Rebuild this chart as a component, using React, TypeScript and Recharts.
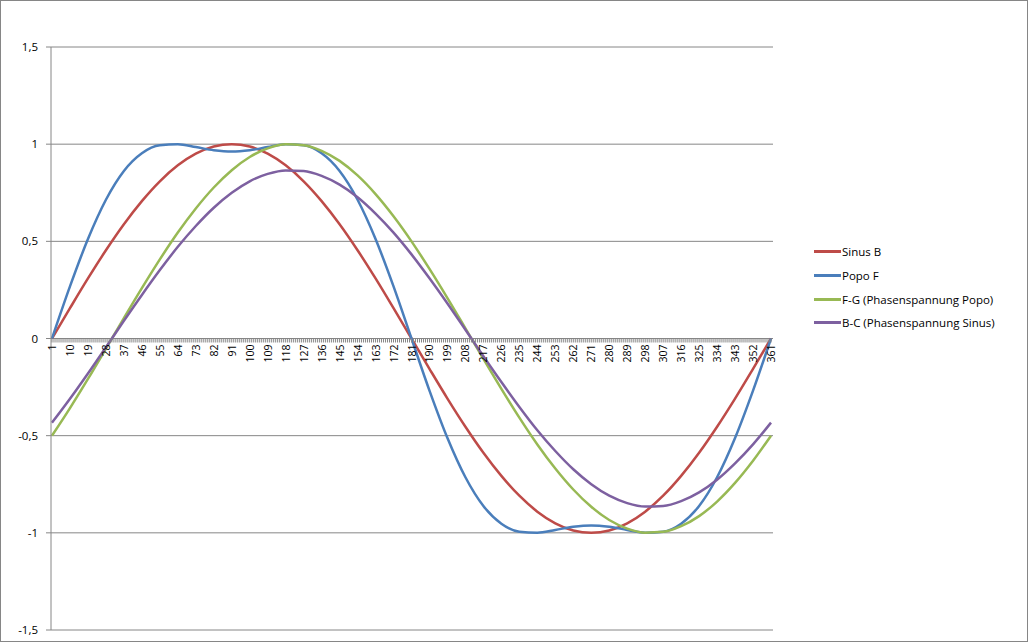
import {
  LineChart,
  Line,
  XAxis,
  YAxis,
  CartesianGrid,
  ReferenceLine,
} from "recharts";

// angle steps (category numbers 1..361, every 9th)
const xs = [
  1, 10, 19, 28, 37, 46, 55, 64, 73, 82, 91, 100, 109, 118, 127, 136, 145, 154,
  163, 172, 181, 190, 199, 208, 217, 226, 235, 244, 253, 262, 271, 280, 289,
  298, 307, 316, 325, 334, 343, 352, 361,
];

const sinusB = [
  0, 0.156, 0.309, 0.454, 0.588, 0.707, 0.809, 0.891, 0.951, 0.988, 1, 0.988,
  0.951, 0.891, 0.809, 0.707, 0.588, 0.454, 0.309, 0.156, 0, -0.156, -0.309,
  -0.454, -0.588, -0.707, -0.809, -0.891, -0.951, -0.988, -1, -0.988, -0.951,
  -0.891, -0.809, -0.707, -0.588, -0.454, -0.309, -0.156, 0,
];

const popoF = [
  0, 0.268, 0.512, 0.714, 0.862, 0.953, 0.994, 0.999, 0.985, 0.969, 0.962,
  0.969, 0.985, 0.999, 0.994, 0.953, 0.862, 0.714, 0.512, 0.268, 0, -0.268,
  -0.512, -0.714, -0.862, -0.953, -0.994, -0.999, -0.985, -0.969, -0.962,
  -0.969, -0.985, -0.999, -0.994, -0.953, -0.862, -0.714, -0.512, -0.268, 0,
];

const fg = [
  -0.5, -0.358, -0.208, -0.052, 0.105, 0.259, 0.407, 0.545, 0.669, 0.777,
  0.866, 0.934, 0.978, 0.999, 0.995, 0.966, 0.914, 0.839, 0.743, 0.629, 0.5,
  0.358, 0.208, 0.052, -0.105, -0.259, -0.407, -0.545, -0.669, -0.777, -0.866,
  -0.934, -0.978, -0.999, -0.995, -0.966, -0.914, -0.839, -0.743, -0.629, -0.5,
];

const bc = [
  -0.433, -0.31, -0.18, -0.045, 0.091, 0.224, 0.352, 0.472, 0.579, 0.673, 0.75,
  0.809, 0.847, 0.865, 0.862, 0.837, 0.792, 0.727, 0.643, 0.545, 0.433, 0.31,
  0.18, 0.045, -0.091, -0.224, -0.352, -0.472, -0.579, -0.673, -0.75, -0.809,
  -0.847, -0.865, -0.862, -0.837, -0.792, -0.727, -0.643, -0.545, -0.433,
];

const yTicks = [-1.5, -1, -0.5, 0, 0.5, 1, 1.5];
// one minor tick per category
const xTicks = Array.from({ length: 361 }, (_, i) => i + 1);

const series = [
  { key: "sinusB", name: "Sinus B", color: "#BE4B48" },
  { key: "popoF", name: "Popo F", color: "#4A7EBB" },
  { key: "fg", name: "F-G (Phasenspannung Popo)", color: "#98B954" },
  { key: "bc", name: "B-C (Phasenspannung Sinus)", color: "#7D60A0" },
];

const data = xs.map((x, i) => ({
  x,
  sinusB: sinusB[i],
  popoF: popoF[i],
  fg: fg[i],
  bc: bc[i],
}));

const W = 1028;
const H = 642;
const TOP = 47;
const BOTTOM = 11;
const X_H = 1;
const PLOT_H = H - TOP - BOTTOM - X_H;
const AXIS = "#868686";
const FONT = "'Open Sans', sans-serif";

// x axis sits on y=0, i.e. the middle of the symmetric domain
function XTick(props: any) {
  const { x, y, payload } = props;
  const y0 = y - PLOT_H / 2;
  const v = payload.value as number;
  const ty = y0 + 6;
  return (
    <g>
      <line x1={x} x2={x} y1={y0} y2={y0 + 4} stroke={AXIS} strokeWidth={1} />
      {(v - 1) % 9 === 0 && (
        <text
          x={x}
          y={ty}
          transform={`rotate(-90 ${x} ${ty})`}
          textAnchor="end"
          dominantBaseline="central"
          fontSize={10.5}
          fontFamily={FONT}
          fill="#000"
        >
          {v}
        </text>
      )}
    </g>
  );
}

function LegendBox() {
  return (
    <div
      style={{
        position: "absolute",
        left: 814,
        top: 240,
        fontFamily: FONT,
        fontSize: 11.5,
        color: "#000",
      }}
    >
      {series.map((s) => (
        <div
          key={s.key}
          style={{ display: "flex", alignItems: "center", height: 23.7 }}
        >
          <span
            style={{
              display: "inline-block",
              width: 27,
              height: 3,
              background: s.color,
              marginRight: 1,
            }}
          />
          <span>{s.name}</span>
        </div>
      ))}
    </div>
  );
}

export default function App() {
  return (
    <div
      style={{
        position: "absolute",
        left: 0,
        top: 0,
        width: W,
        height: H,
        boxSizing: "border-box",
        border: `1px solid ${AXIS}`,
        background: "#fff",
      }}
    >
      <div style={{ position: "absolute", left: -1, top: -1 }}>
        <LineChart
          width={W}
          height={H}
          data={data}
          margin={{ top: TOP, right: 255, left: 0, bottom: BOTTOM }}
        >
          <CartesianGrid horizontal vertical={false} stroke={AXIS} />
          <XAxis
            dataKey="x"
            type="number"
            domain={[0.5, 362]}
            ticks={xTicks}
            interval={0}
            height={X_H}
            tickSize={0}
            tickMargin={0}
            tickLine={false}
            axisLine={false}
            tick={<XTick />}
            allowDataOverflow
          />
          <YAxis
            type="number"
            domain={[-1.5, 1.5]}
            ticks={yTicks}
            width={51}
            tickSize={5}
            tickMargin={8}
            stroke={AXIS}
            tick={{ fill: "#000", fontSize: 11.5, fontFamily: FONT }}
            tickFormatter={(v: number) => String(v).replace(".", ",")}
          />
          <ReferenceLine y={0} stroke={AXIS} />
          {series.map((s) => (
            <Line
              key={s.key}
              type="monotone"
              dataKey={s.key}
              name={s.name}
              stroke={s.color}
              strokeWidth={2.5}
              dot={false}
              isAnimationActive={false}
            />
          ))}
        </LineChart>
        <LegendBox />
      </div>
    </div>
  );
}
